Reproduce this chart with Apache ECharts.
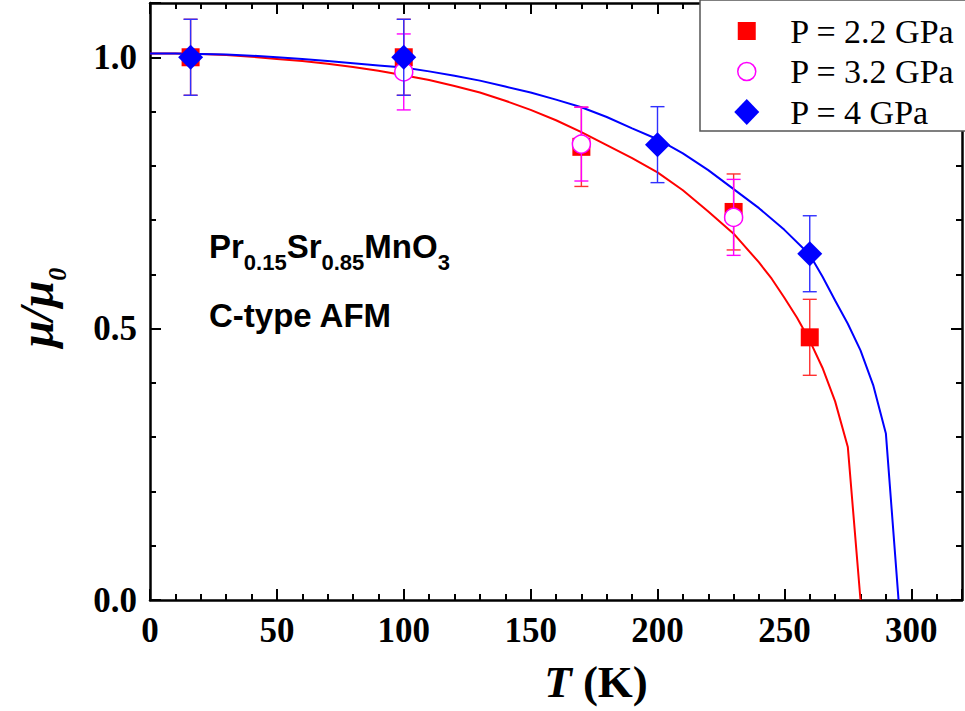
<!DOCTYPE html>
<html>
<head>
<meta charset="utf-8">
<script src="https://cdn.jsdelivr.net/npm/echarts@6/dist/echarts.min.js"></script>
<style>
html, body { margin: 0; padding: 0; background: #fff; }
#chart { width: 965px; height: 711px; }
</style>
</head>
<body>
<div id="chart"></div>
<script>
// fit curves
var fit22T  = [0, 10, 20, 30, 40, 50, 60, 70, 80, 90, 100, 110, 120, 130, 140, 150, 160, 170, 180, 190, 200, 210, 220, 230, 240, 245, 250, 255, 260, 265, 270, 275, 280];
var fit22Mu = [1.007, 1.007, 1.006, 1.004, 1.001, 0.997, 0.993, 0.988, 0.982, 0.975, 0.967, 0.958, 0.947, 0.935, 0.920, 0.903, 0.884, 0.862, 0.838, 0.814, 0.788, 0.755, 0.716, 0.675, 0.622, 0.592, 0.557, 0.520, 0.478, 0.428, 0.366, 0.282, 0];
var fit4T   = [0, 10, 20, 30, 40, 50, 60, 70, 80, 90, 100, 110, 120, 130, 140, 150, 160, 170, 180, 190, 200, 210, 220, 230, 240, 250, 260, 265, 270, 275, 280, 285, 290, 295];
var fit4Mu  = [1.007, 1.007, 1.006, 1.005, 1.003, 1.000, 0.997, 0.993, 0.989, 0.985, 0.981, 0.974, 0.966, 0.957, 0.946, 0.935, 0.922, 0.908, 0.890, 0.869, 0.849, 0.823, 0.792, 0.757, 0.722, 0.682, 0.636, 0.596, 0.552, 0.509, 0.460, 0.396, 0.307, 0];

// measured points
var p22T   = [16, 100, 170, 230, 260];
var p22Mu  = [1.0, 1.0, 0.835, 0.715, 0.484];
var p22Err = [0.07, 0.07, 0.073, 0.07, 0.07];
var p32T   = [100, 170, 230];
var p32Mu  = [0.973, 0.84, 0.705];
var p32Err = [0.07, 0.068, 0.07];
var p4T    = [16, 100, 200, 260];
var p4Mu   = [1.0, 1.0, 0.839, 0.638];
var p4Err  = [0.07, 0.07, 0.07, 0.07];

var names = ['P = 2.2 GPa', 'P = 3.2 GPa', 'P = 4 GPa'];
var xMax = 320, xStep = 50, xMinor = 10;
var yMax = 1.1, yStep = 0.5, yMinor = 0.1;

var serif = '"Liberation Serif", "Times New Roman", serif';
var sans = '"Liberation Sans", Arial, sans-serif';

function zip(a, b) {
    return a.map(function (v, i) { return [v, b[i]]; });
}
function errData(t, m, e) {
    return t.map(function (v, i) { return [v, m[i] - e[i], m[i] + e[i]]; });
}
function errorBars(color) {
    return function (params, api) {
        var lo = api.coord([api.value(0), api.value(1)]);
        var hi = api.coord([api.value(0), api.value(2)]);
        var w = 7, st = { stroke: color, lineWidth: 1.4 };
        return {
            type: 'group',
            children: [
                { type: 'line', shape: { x1: lo[0], y1: lo[1], x2: hi[0], y2: hi[1] }, style: st },
                { type: 'line', shape: { x1: lo[0] - w, y1: lo[1], x2: lo[0] + w, y2: lo[1] }, style: st },
                { type: 'line', shape: { x1: hi[0] - w, y1: hi[1], x2: hi[0] + w, y2: hi[1] }, style: st }
            ]
        };
    };
}

// one axis per side for the long ticks, one more for the short ones
function axis(isX, pos, step, len, main) {
    var labels = main && (pos === 'bottom' || pos === 'left');
    return {
        type: 'value', position: pos, min: 0, max: isX ? xMax : yMax, interval: step,
        axisLine: { show: main, onZero: false, lineStyle: { color: '#000', width: 2.5 } },
        axisTick: { show: true, inside: true, length: len, lineStyle: { color: '#000', width: 2 } },
        axisLabel: {
            show: labels, margin: 13, color: '#000',
            fontFamily: serif, fontWeight: 'bold', fontSize: 35,
            formatter: isX ? function (v) { return v <= 300 ? String(v) : ''; }
                           : function (v) { return Math.abs(v * 2 - Math.round(v * 2)) < 1e-6 ? v.toFixed(1) : ''; }
        },
        splitLine: { show: false }
    };
}

var xAxes = [axis(true, 'bottom', xStep, 11, true), axis(true, 'bottom', xMinor, 6, false),
             axis(true, 'top', xStep, 11, true), axis(true, 'top', xMinor, 6, false)];
var yAxes = [axis(false, 'left', yStep, 11, true), axis(false, 'left', yMinor, 6, false),
             axis(false, 'right', yStep, 11, true), axis(false, 'right', yMinor, 6, false)];

xAxes[0].name = '{i|T} (K)';
xAxes[0].nameLocation = 'middle';
xAxes[0].nameGap = 59;
xAxes[0].nameTextStyle = {
    fontFamily: serif, fontWeight: 'bold', fontSize: 45, color: '#000', padding: [0, 0, 0, 80],
    rich: { i: { fontFamily: serif, fontWeight: 'bold', fontStyle: 'italic', fontSize: 45 } }
};
yAxes[0].name = '{m|μ/μ}{s|0}';
yAxes[0].nameLocation = 'middle';
yAxes[0].nameRotate = 90;
yAxes[0].nameGap = 88;
yAxes[0].nameTextStyle = {
    color: '#000', padding: [0, 12, 0, 0],
    rich: {
        m: { fontFamily: serif, fontWeight: 'bold', fontStyle: 'italic', fontSize: 48, lineHeight: 50, verticalAlign: 'top' },
        s: { fontFamily: serif, fontWeight: 'bold', fontStyle: 'italic', fontSize: 26, lineHeight: 26, padding: [32, 0, 0, 0], verticalAlign: 'top' }
    }
};

var box = 'path://M0 0M51 27';
var option = {
    animation: false,
    backgroundColor: '#fff',
    grid: { left: 150, top: 3, width: 817, height: 597 },
    xAxis: xAxes,
    yAxis: yAxes,
    legend: {
        left: 700, top: 0, orient: 'vertical',
        padding: [14, 22, 2, 33.5], itemGap: 6.5,
        itemWidth: 51, itemHeight: 27,
        borderColor: '#555', borderWidth: 1.5, backgroundColor: '#fff',
        textStyle: { fontFamily: serif, fontSize: 34, lineHeight: 30, color: '#000' },
        data: [
            { name: names[0], icon: box + 'M3.5 4.5h18v18h-18z', itemStyle: { color: '#ff0000' } },
            { name: names[1], icon: box + 'M3.5 13.5a9 9 0 1 0 18 0a9 9 0 1 0 -18 0z',
              itemStyle: { color: '#fff', borderColor: '#ff00ff', borderWidth: 1.5 } },
            { name: names[2], icon: box + 'M0 13.5L12.5 0.5L25 13.5L12.5 26.5z', itemStyle: { color: '#0000ff' } }
        ]
    },
    graphic: [
        {
            type: 'text', left: 209, top: 230,
            style: {
                text: '{b|Pr}{s|0.15}{b|Sr}{s|0.85}{b|MnO}{s|3}',
                fill: '#000',
                rich: {
                    b: { fontFamily: sans, fontWeight: 'bold', fontSize: 33, lineHeight: 36, verticalAlign: 'top' },
                    s: { fontFamily: sans, fontWeight: 'bold', fontSize: 22, lineHeight: 22, padding: [21, 0, 0, 0], verticalAlign: 'top' }
                }
            }
        },
        {
            type: 'text', left: 209, top: 297,
            style: { text: 'C-type AFM', fill: '#000', font: 'bold 33px ' + sans, lineHeight: 36 }
        }
    ],
    series: [
        { name: 'fit22', type: 'line', data: zip(fit22T, fit22Mu), symbol: 'none', silent: true, z: 2,
          lineStyle: { color: '#ff0000', width: 2 } },
        { name: 'fit4', type: 'line', data: zip(fit4T, fit4Mu), symbol: 'none', silent: true, z: 2,
          lineStyle: { color: '#0000ff', width: 2 } },
        { name: 'err22', type: 'custom', data: errData(p22T, p22Mu, p22Err), renderItem: errorBars('#ff3030'), z: 3 },
        { name: names[0], type: 'scatter', data: zip(p22T, p22Mu), symbol: 'rect', symbolSize: 18, z: 4,
          itemStyle: { color: '#ff0000', opacity: 1 } },
        { name: 'err32', type: 'custom', data: errData(p32T, p32Mu, p32Err), renderItem: errorBars('#ff00ff'), z: 5 },
        { name: names[1], type: 'scatter', data: zip(p32T, p32Mu), symbol: 'circle', symbolSize: 18, z: 6,
          itemStyle: { color: '#fff', borderColor: '#ff00ff', borderWidth: 1.5, opacity: 1 } },
        { name: 'err4', type: 'custom', data: errData(p4T, p4Mu, p4Err), renderItem: errorBars('#3030ff'), z: 7 },
        { name: names[2], type: 'scatter', data: zip(p4T, p4Mu), symbol: 'diamond', symbolSize: 25, z: 8,
          itemStyle: { color: '#0000ff', opacity: 1 } }
    ]
};

var chart = echarts.init(document.getElementById('chart'), null, { renderer: 'svg' });
chart.setOption(option);
</script>
</body>
</html>
